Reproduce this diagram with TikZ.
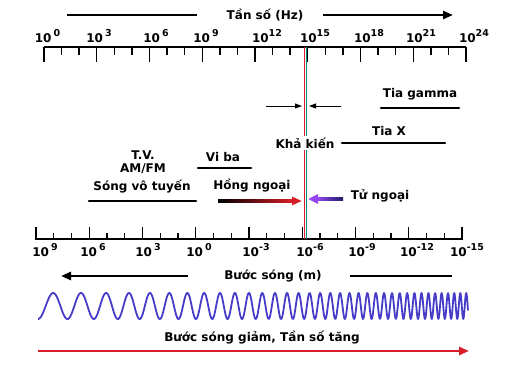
\documentclass[tikz,border=0pt]{standalone}
\usepackage{fontspec}
\setmainfont{DejaVu Sans}
\usetikzlibrary{arrows.meta}
\definecolor{cteal}{RGB}{0,140,128}
\definecolor{cred}{RGB}{215,30,40}
\definecolor{cwave}{RGB}{70,60,200}
\definecolor{cviolet}{RGB}{150,70,240}
\definecolor{cnavy}{RGB}{30,30,110}
\newcommand{\ex}[1]{\raisebox{0.42em}{\fontsize{9.5}{10}\selectfont #1}}

\begin{document}
\begin{tikzpicture}[x=1pt,y=-1pt,
  lbl/.style={font=\fontsize{12}{13}\selectfont\bfseries,inner sep=1pt},
  num/.style={font=\fontsize{12}{13}\selectfont\bfseries,inner sep=0pt,anchor=base},
  band/.style={line width=2.6pt,line cap=round},
  axis/.style={line width=1.8pt},
  tick/.style={line width=1.4pt},
  bigtip/.style={-{Triangle[length=10pt,width=8pt]}}]
\useasboundingbox (0,0) rectangle (506,372);

% frequency axis
\draw[axis] (44,47) -- (466,47);
\foreach \i in {0,...,24}{
  \pgfmathsetmacro{\xx}{44+\i*17.583}
  \pgfmathtruncatemacro{\mj}{mod(\i,3)==0}
  \ifnum\mj=1 \draw[tick] (\xx,46.5) -- (\xx,62); \else \draw[tick] (\xx,46.5) -- (\xx,55); \fi
}
\foreach \lab/\xx [count=\k] in {{10\,\ex{0}}/47.5,{10\,\ex{3}}/99,{10\,\ex{6}}/156,{10\,\ex{9}}/206,
  {10\ex{12}}/267,{10\ex{15}}/315,{10\ex{18}}/369,{10\ex{21}}/421,{10\ex{24}}/474}
  \node[num] (f\k) at (\xx,42) {\lab};

\node[lbl] (freq) at (265,15) {Tần số (Hz)};
\draw[band,line cap=butt] (67,15) -- (197,15);
\draw[band,line cap=butt,bigtip] (323,15) -- (453,15);

% wavelength axis
\draw[axis] (36,239) -- (462,239);
\foreach \i in {0,...,24}{
  \pgfmathsetmacro{\xx}{36+\i*17.75}
  \pgfmathtruncatemacro{\mj}{mod(\i,3)==0}
  \ifnum\mj=1 \draw[tick] (\xx,239.5) -- (\xx,227); \else \draw[tick] (\xx,239.5) -- (\xx,233); \fi
}
\foreach \lab/\xx [count=\k] in {{10\,\ex{9}}/45,{10\,\ex{6}}/93,{10\,\ex{3}}/148,{10\,\ex{0}}/199,
  {10\ex{-3}}/256,{10\ex{-6}}/310,{10\ex{-9}}/362,{10\ex{-12}}/417,{10\ex{-15}}/467}
  \node[num] (w\k) at (\xx,256) {\lab};

\node[lbl] (wlen) at (273,276) {Bước sóng (m)};
\draw[band,line cap=butt,bigtip] (188,276) -- (61,276);
\draw[band,line cap=butt] (350,276) -- (452,276);

% visible band
\draw[cred,line width=1pt] (304.6,47) -- (304.6,239);
\draw[cteal,line width=1.4pt] (306.4,47) -- (306.4,239);
\draw[line width=1pt,-{Triangle[length=7pt,width=5pt]}] (266,106) -- (302,106);
\draw[line width=1pt,-{Triangle[length=7pt,width=5pt]}] (341,106) -- (309,106);
\node[lbl,fill=white,inner sep=2pt] (vis) at (305,143) {Khả kiến};

% bands
\node[lbl] (gam) at (420,94) {Tia gamma};
\draw[band] (381,108) -- (459,108);
\node[lbl] (xr) at (389,131) {Tia X};
\draw[band] (342,143) -- (445,143);
\node[lbl] (mw) at (223,157) {Vi ba};
\draw[band] (198,168) -- (251,168);
\node[lbl] (tv) at (143,155) {T.V.};
\node[lbl] (am) at (143,169) {AM/FM};
\node[lbl] (rad) at (142,187) {Sóng vô tuyến};
\draw[band] (89,201) -- (196,201);
\node[lbl] (ir) at (252,186) {Hồng ngoại};
\shade[left color=black,right color=cred] (218,199.6) rectangle (292,202.4);
\draw[cred,line width=2.8pt,-{Triangle[length=10pt,width=8pt]}] (288,201) -- (302,201);
\node[lbl] (uv) at (380,196) {Tử ngoại};
\shade[left color=cviolet,right color=cnavy] (316,197.6) rectangle (343,200.4);
\draw[cviolet,line width=2.8pt,-{Triangle[length=10pt,width=9pt]}] (320,199) -- (308,199);

% wave
\draw[cwave,line width=1.8pt,line join=round] plot[domain=38:468,samples=1000]
  (\x,{306+13*cos(2954*(exp(0.0039*(\x-38))-1))});

\node[lbl] (dir) at (262,338) {Bước sóng giảm, Tần số tăng};
\draw[cred,band,line cap=butt,bigtip] (38,351) -- (469,351);

\end{tikzpicture}
\end{document}
